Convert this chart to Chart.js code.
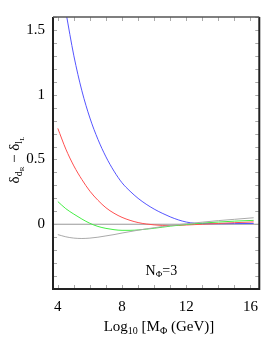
<!DOCTYPE html>
<html>
<head>
<meta charset="utf-8">
<script src="https://cdn.jsdelivr.net/npm/chart.js@4.4.0/dist/chart.umd.min.js"></script>
<style>
  html, body { margin: 0; padding: 0; background: #fff; }
  #wrap { width: 267px; height: 347px; }
</style>
</head>
<body>
<div id="wrap"><canvas id="chart"></canvas></div>
<script>
const masas = [4, 4.5, 5, 5.5, 6, 6.5, 7, 7.5, 8, 8.5, 9, 9.5, 10, 10.5, 11, 11.5, 12, 12.5, 13, 14, 15, 16.2];
const azul  = [null, 1.64, 1.3, 1.03, 0.82, 0.655, 0.52, 0.41, 0.32, 0.255, 0.2, 0.155, 0.117, 0.085, 0.057, 0.034, 0.017, 0.008, 0.005, 0.004, 0.005, 0.006];
const rojo  = [0.74, 0.58, 0.45, 0.345, 0.255, 0.185, 0.127, 0.085, 0.053, 0.03, 0.013, 0.002, -0.005, -0.009, -0.01, -0.009, -0.006, -0.003, 0, 0.006, 0.012, 0.018];
const verde = [0.175, 0.12, 0.078, 0.04, 0.007, -0.017, -0.032, -0.042, -0.047, -0.047, -0.044, -0.038, -0.031, -0.023, -0.015, -0.008, -0.002, 0.004, 0.009, 0.017, 0.024, 0.03];
const gris  = [-0.08, -0.097, -0.107, -0.11, -0.107, -0.1, -0.09, -0.08, -0.068, -0.057, -0.046, -0.036, -0.027, -0.018, -0.01, -0.003, 0.003, 0.01, 0.016, 0.028, 0.038, 0.05];

const ticksX = [4, 5, 6, 7, 8, 9, 10, 11, 12, 13, 14, 15, 16];
const etiquetasX = [4, 8, 12, 16];
const etiquetasY = [0, 0.5, 1, 1.5];

const serie = (datos, color) => ({
    data: masas.map((m, i) => ({ x: m, y: datos[i] })),
    borderColor: color,
    borderWidth: 1,
    pointRadius: 0,
    fill: false,
    cubicInterpolationMode: 'monotone'
});

const fuente = '"Liberation Serif", "DejaVu Serif", serif';

// dibuja texto con subindices: partes = [[texto, tamaño, desplazamiento]]
function textoRico(ctx, partes, x, y) {
    let ancho = 0;
    partes.forEach(p => { ctx.font = p[1] + 'px ' + fuente; ancho += ctx.measureText(p[0]).width; });
    let cx = x - ancho / 2;
    ctx.textAlign = 'left';
    ctx.textBaseline = 'alphabetic';
    partes.forEach(p => {
        ctx.font = p[1] + 'px ' + fuente;
        ctx.fillText(p[0], cx, y + p[2]);
        cx += ctx.measureText(p[0]).width;
    });
}

const marco = {
    id: 'marco',
    beforeDatasetsDraw(chart) {
        const { ctx, chartArea: a, scales: { y } } = chart;
        const y0 = y.getPixelForValue(0);
        ctx.save();
        ctx.strokeStyle = '#999';
        ctx.lineWidth = 1;
        ctx.beginPath();
        ctx.moveTo(a.left, y0);
        ctx.lineTo(a.right, y0);
        ctx.stroke();
        ctx.restore();
    },
    afterDraw(chart) {
        const { ctx, chartArea: a, scales: { x, y } } = chart;
        ctx.save();
        // marcas interiores
        ctx.strokeStyle = '#aaa';
        ctx.lineWidth = 1;
        ctx.beginPath();
        ticksX.forEach(v => {
            const px = Math.round(x.getPixelForValue(v)) + 0.5;
            ctx.moveTo(px, a.bottom); ctx.lineTo(px, a.bottom - 4);
            ctx.moveTo(px, a.top); ctx.lineTo(px, a.top + 4);
        });
        for (let k = -5; k <= 16; k++) {
            const py = Math.round(y.getPixelForValue(k / 10)) + 0.5;
            ctx.moveTo(a.left, py); ctx.lineTo(a.left + 4, py);
            ctx.moveTo(a.right, py); ctx.lineTo(a.right - 4, py);
        }
        ctx.stroke();
        // marco
        ctx.strokeStyle = '#222';
        ctx.lineWidth = 2;
        ctx.beginPath();
        ctx.moveTo(a.left, a.top);
        ctx.lineTo(a.left, a.bottom);
        ctx.lineTo(a.right, a.bottom);
        ctx.lineTo(a.right, a.top);
        ctx.stroke();
        ctx.strokeStyle = '#555';
        ctx.lineWidth = 1.5;
        ctx.beginPath();
        ctx.moveTo(a.left, a.top);
        ctx.lineTo(a.right, a.top);
        ctx.stroke();

        ctx.fillStyle = '#000';
        // N_Phi = 3
        textoRico(ctx, [['N', 14, 0], ['Φ', 9, 2], ['=3', 14, 0]],
            x.getPixelForValue(10.45), y.getPixelForValue(-0.355) + 5);
        // titulo eje x
        textoRico(ctx, [['Log', 15, 0], ['10', 10, 3], [' [M', 15, 0], ['Φ', 10, 3], [' (GeV)]', 15, 0]],
            159, 331);
        // titulo eje y
        ctx.translate(19, 160);
        ctx.rotate(-Math.PI / 2);
        textoRico(ctx, [['δ', 15, 0], ['d', 10, 3], ['R', 7, 5], [' − ', 15, 0], ['δ', 15, 0], ['l', 10, 3], ['L', 7, 5]],
            0, 0);
        ctx.restore();
    }
};

new Chart(document.getElementById('chart'), {
    type: 'line',
    data: {
        datasets: [
            serie(gris, '#aaaaaa'),
            serie(verde, '#44ee44'),
            serie(rojo, '#ff5050'),
            serie(azul, '#5555ff')
        ]
    },
    options: {
        responsive: true,
        maintainAspectRatio: false,
        animation: false,
        layout: { padding: { top: 12, right: 1, left: 0, bottom: 0 } },
        plugins: {
            legend: { display: false },
            tooltip: { enabled: false }
        },
        scales: {
            x: {
                type: 'linear',
                min: 3.7,
                max: 16.55,
                grid: { display: false, drawTicks: false },
                border: { display: false },
                afterBuildTicks: s => { s.ticks = etiquetasX.map(v => ({ value: v })); },
                afterFit: s => { s.height = 58; },
                ticks: {
                    padding: 9,
                    color: '#000',
                    font: { family: fuente, size: 15 },
                    callback: v => String(v)
                }
            },
            y: {
                type: 'linear',
                min: -0.5,
                max: 1.6,
                grid: { display: false, drawTicks: false },
                border: { display: false },
                afterBuildTicks: s => { s.ticks = etiquetasY.map(v => ({ value: v })); },
                afterFit: s => { s.width = 53; },
                ticks: {
                    padding: 8,
                    color: '#000',
                    font: { family: fuente, size: 15 },
                    callback: v => String(v)
                }
            }
        }
    },
    plugins: [marco]
});
</script>
</body>
</html>
